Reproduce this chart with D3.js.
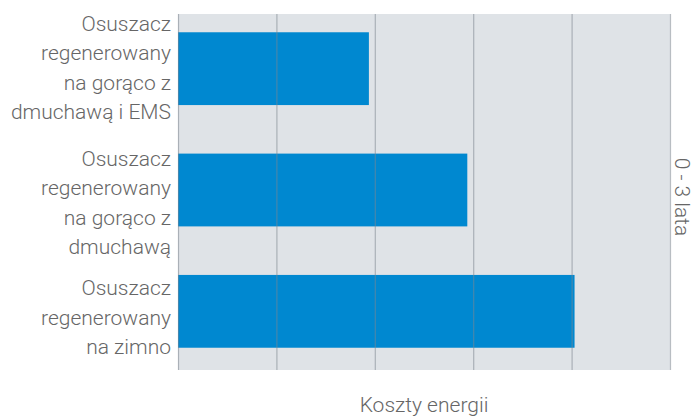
<!DOCTYPE html>
<html>
<head>
<meta charset="utf-8">
<script src="https://cdn.jsdelivr.net/npm/d3@7"></script>
<style>
  body { margin: 0; background: #fff; }
  text { font-family: Roboto, "Liberation Sans", sans-serif; font-weight: 300; fill: #666; }
</style>
</head>
<body>
<div id="chart"></div>
<script>
// Categories (top to bottom), each label split in lines
const categories = [
  "Osuszacz regenerowany na gorąco z dmuchawą i EMS",
  "Osuszacz regenerowany na gorąco z dmuchawą",
  "Osuszacz regenerowany na zimno"
];
const labelLines = [
  ["Osuszacz", "regenerowany", "na gorąco z", "dmuchawą i EMS"],
  ["Osuszacz", "regenerowany", "na gorąco z", "dmuchawą"],
  ["Osuszacz", "regenerowany", "na zimno"]
];
// Energy cost (relative units)
const values = [1.94, 2.94, 4.03];
const xTicks = [0, 1, 2, 3, 4, 5];
const xTitle = "Koszty energii";
const sideTitle = "0 - 3 lata";

/*******************************/
/*    Declare the constants    */
/*******************************/
const width = 700;
const height = 417;
const plot = {left: 178, right: 670, top: 14, bottom: 370};
const lineHeight = 29.3;
const fontSize = 21;
const labelShift = [-1, 12.5, 6];

const svg = d3.select("#chart")
  .append("svg")
    .attr("width", width)
    .attr("height", height);

/****************************/
/*    Declare the scales    */
/****************************/
const xScale = d3.scaleLinear()
  .domain([0, 5])
  .range([plot.left, plot.right]);

const yScale = d3.scaleBand()
  .domain(categories)
  .range([8, 372])
  .paddingInner(0.4)
  .paddingOuter(0.2);

// Background
svg.append("rect")
  .attr("x", plot.left)
  .attr("y", plot.top)
  .attr("width", plot.right - plot.left)
  .attr("height", plot.bottom - plot.top)
  .attr("fill", "#dfe3e7");

// Bars
svg.selectAll(".bar")
  .data(categories)
  .join("rect")
    .attr("class", "bar")
    .attr("x", xScale(0))
    .attr("y", d => yScale(d))
    .attr("width", (d, i) => xScale(values[i]) - xScale(0))
    .attr("height", yScale.bandwidth())
    .attr("fill", "#0088d0");

// Gridlines, drawn over the bars
const grid = d3.axisBottom(xScale)
  .tickValues(xTicks)
  .tickSize(-(plot.bottom - plot.top))
  .tickFormat("");
svg.append("g")
  .attr("transform", `translate(0, ${plot.bottom})`)
  .call(grid)
  .call(g => g.select(".domain").remove())
  .call(g => g.selectAll(".tick line")
    .attr("stroke", "#7d8690")
    .attr("stroke-opacity", 0.55)
    .attr("stroke-width", 1.2));

// Category labels
categories.forEach((c, i) => {
  const lines = labelLines[i];
  const cy = yScale(c) + yScale.bandwidth() / 2 + labelShift[i];
  const y0 = cy - (lines.length - 1) * lineHeight / 2;
  svg.append("text")
    .attr("text-anchor", "end")
    .attr("font-size", fontSize)
    .selectAll("tspan")
    .data(lines)
    .join("tspan")
      .attr("x", 171)
      .attr("y", (d, j) => y0 + j * lineHeight)
      .attr("dy", "0.35em")
      .text(d => d);
});

// Axis title
svg.append("text")
  .attr("x", (plot.left + plot.right) / 2)
  .attr("y", 412)
  .attr("text-anchor", "middle")
  .attr("font-size", fontSize)
  .text(xTitle);

// Side title
svg.append("text")
  .attr("transform", `translate(682, ${(plot.top + plot.bottom) / 2 + 5}) rotate(90)`)
  .attr("text-anchor", "middle")
  .attr("dy", "0.35em")
  .attr("font-size", fontSize)
  .text(sideTitle);
</script>
</body>
</html>
